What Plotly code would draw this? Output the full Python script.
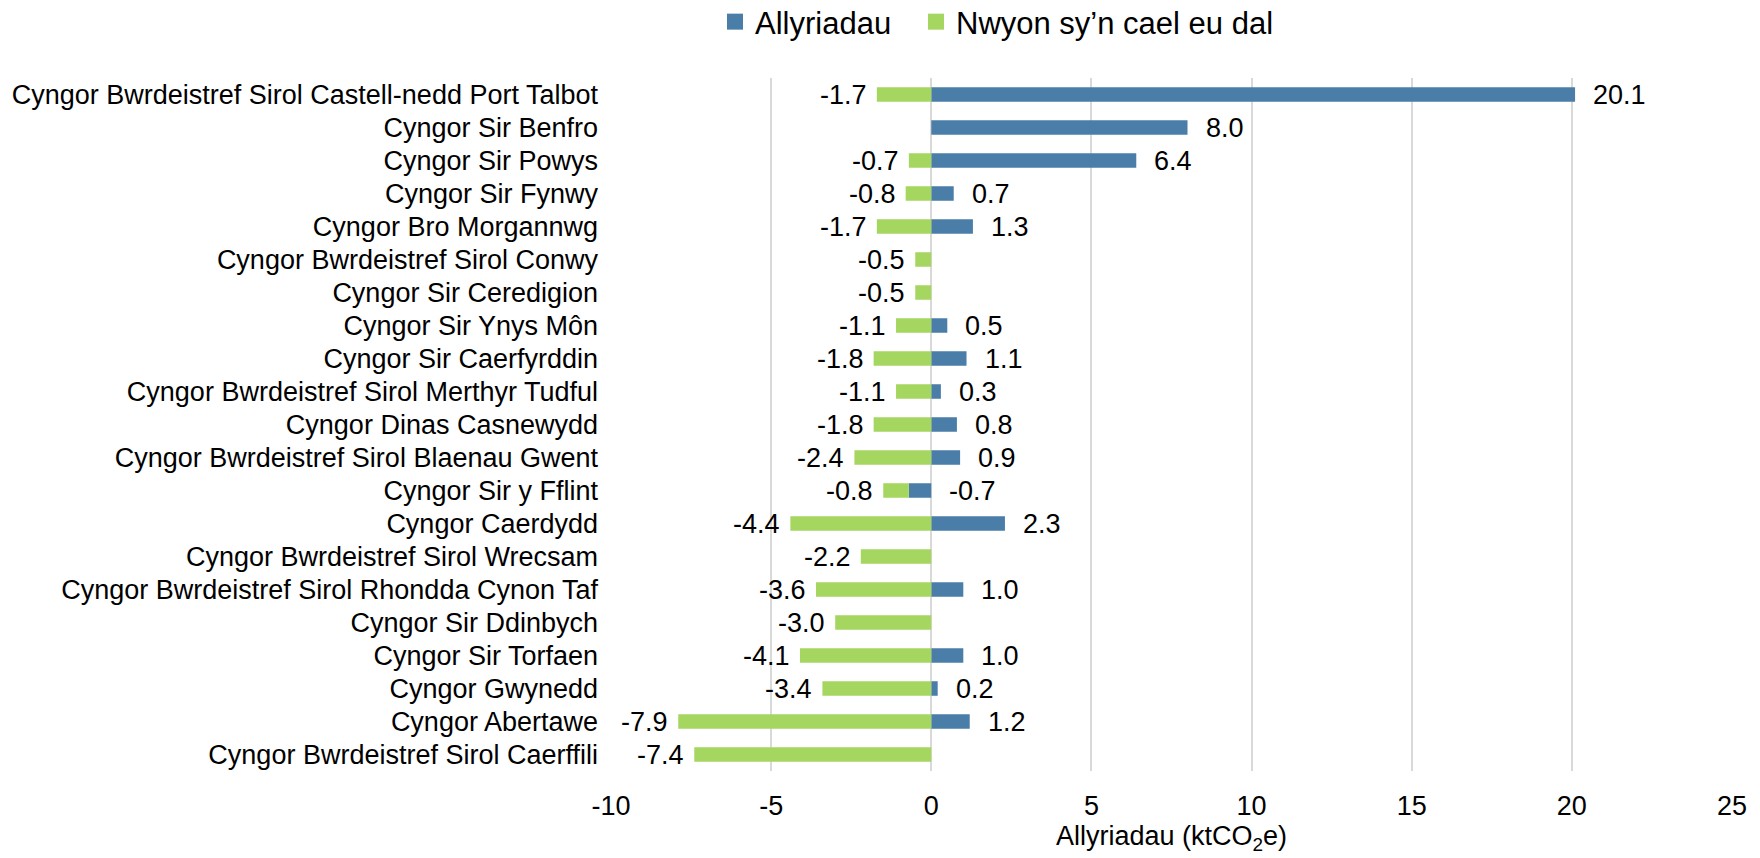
import plotly.graph_objects as go

councils = [
    "Cyngor Bwrdeistref Sirol Castell-nedd Port Talbot",
    "Cyngor Sir Benfro",
    "Cyngor Sir Powys",
    "Cyngor Sir Fynwy",
    "Cyngor Bro Morgannwg",
    "Cyngor Bwrdeistref Sirol Conwy",
    "Cyngor Sir Ceredigion",
    "Cyngor Sir Ynys Môn",
    "Cyngor Sir Caerfyrddin",
    "Cyngor Bwrdeistref Sirol Merthyr Tudful",
    "Cyngor Dinas Casnewydd",
    "Cyngor Bwrdeistref Sirol Blaenau Gwent",
    "Cyngor Sir y Fflint",
    "Cyngor Caerdydd",
    "Cyngor Bwrdeistref Sirol Wrecsam",
    "Cyngor Bwrdeistref Sirol Rhondda Cynon Taf",
    "Cyngor Sir Ddinbych",
    "Cyngor Sir Torfaen",
    "Cyngor Gwynedd",
    "Cyngor Abertawe",
    "Cyngor Bwrdeistref Sirol Caerffili",
]

allyriadau = [20.1, 8.0, 6.4, 0.7, 1.3, None, None, 0.5, 1.1, 0.3, 0.8, 0.9,
              -0.7, 2.3, None, 1.0, None, 1.0, 0.2, 1.2, None]
nwyon = [-1.7, None, -0.7, -0.8, -1.7, -0.5, -0.5, -1.1, -1.8, -1.1, -1.8, -2.4,
         -0.8, -4.4, -2.2, -3.6, -3.0, -4.1, -3.4, -7.9, -7.4]

series_names = ["Allyriadau", "Nwyon sy\u2019n cael eu dal"]
x_ticks = [-10, -5, 0, 5, 10, 15, 20, 25]

BLUE = "#4A7EA8"
GREEN = "#A5D65F"
FONT = "Liberation Sans, Arial, sans-serif"
FS = 27
BAR_W = 0.44

fig = go.Figure()
fig.add_trace(go.Bar(y=councils, x=allyriadau, orientation="h", name=series_names[0],
                     marker=dict(color=BLUE, line=dict(width=0)), width=BAR_W,
                     showlegend=False))
fig.add_trace(go.Bar(y=councils, x=nwyon, orientation="h", name=series_names[1],
                     marker=dict(color=GREEN, line=dict(width=0)), width=BAR_W,
                     showlegend=False))
# legend entries with larger square markers (one legend box per series)
for nm, col, lg in zip(series_names, [BLUE, GREEN], ["legend", "legend2"]):
    fig.add_trace(go.Scatter(x=[None], y=[None], mode="markers", name=nm, legend=lg,
                             marker=dict(symbol="square", size=17, color=col)))

annotations = []
for c, a, n in zip(councils, allyriadau, nwyon):
    if a is not None:
        annotations.append(dict(x=max(a, 0), y=c, xref="x", yref="y",
                                text=f"{a:.1f}", showarrow=False, xanchor="left",
                                xshift=16, font=dict(size=FS, color="#000000", family=FONT)))
    if n is not None:
        base = min(a, 0) if a is not None else 0
        annotations.append(dict(x=base + n, y=c, xref="x", yref="y",
                                text=f"{n:.1f}", showarrow=False, xanchor="right",
                                xshift=-8, font=dict(size=FS, color="#000000", family=FONT)))

legend_common = dict(orientation="h", xref="container", yref="container",
                     xanchor="left", y=1 - 22 / 858, yanchor="middle",
                     font=dict(size=31, family=FONT, color="#000000"),
                     itemwidth=30, bgcolor="rgba(0,0,0,0)")

fig.update_layout(
    width=1760, height=858,
    margin=dict(l=607, r=28, t=78, b=86, pad=0),
    barmode="relative",
    plot_bgcolor="white", paper_bgcolor="white",
    font=dict(family=FONT, size=FS, color="#000000"),
    annotations=annotations,
    legend=dict(x=715 / 1760, **legend_common),
    legend2=dict(x=916 / 1760, **legend_common),
    xaxis=dict(range=[-10, 25], tickvals=x_ticks, ticktext=[str(t) for t in x_ticks],
               showgrid=True, gridcolor="#D9D9D9", gridwidth=2,
               zeroline=False, showline=False, ticks="", ticklabelstandoff=16,
               tickfont=dict(size=FS, family=FONT, color="#000000"),
               title=dict(text="Allyriadau (ktCO<sub>2</sub>e)", standoff=6,
                          font=dict(size=FS, family=FONT, color="#000000"))),
    yaxis=dict(categoryorder="array", categoryarray=councils,
               range=[len(councils) - 0.5, -0.5],
               showgrid=False, zeroline=False, showline=False, ticks="",
               ticklabelstandoff=12,
               tickfont=dict(size=FS, family=FONT, color="#000000")),
)

fig.write_html("out.html", config={"displayModeBar": False},
               post_script="document.body.style.margin='0';")
